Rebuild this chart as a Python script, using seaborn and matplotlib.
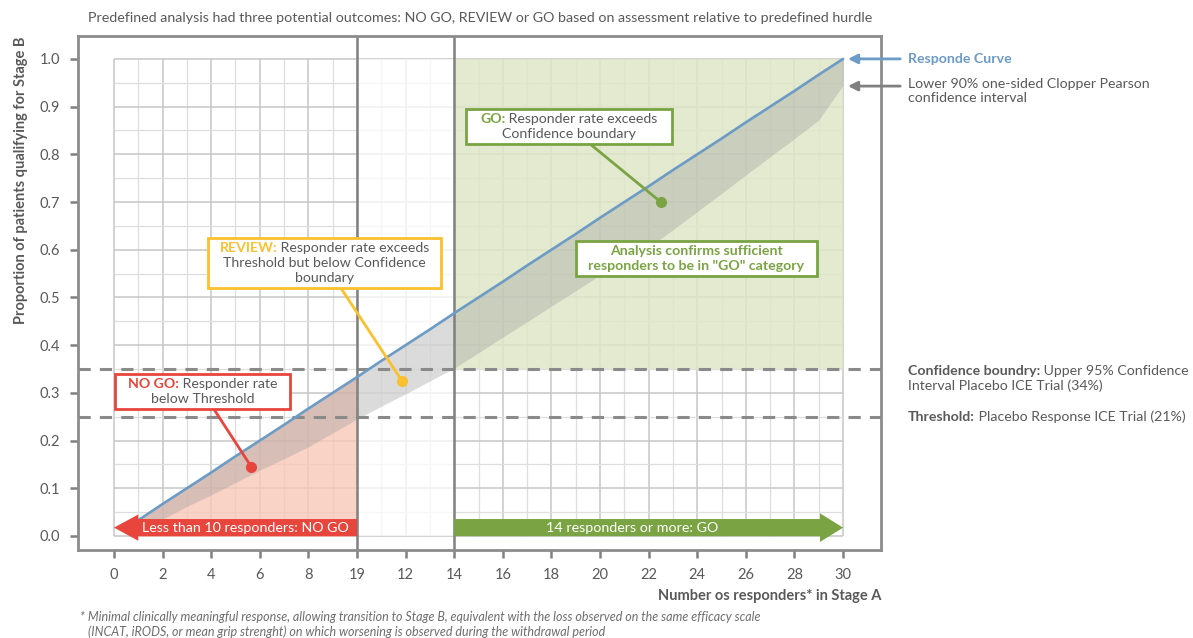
import matplotlib
matplotlib.use("Agg")
import matplotlib.pyplot as plt
import seaborn as sns
from matplotlib.offsetbox import TextArea, HPacker, VPacker, AnnotationBbox, DrawingArea

# Dane
responders = list(range(1, 31))
response_rate = [0.033, 0.067, 0.100, 0.133, 0.167, 0.200, 0.233, 0.267, 0.300, 0.333,
                 0.367, 0.400, 0.433, 0.467, 0.500, 0.533, 0.567, 0.600, 0.633, 0.667,
                 0.700, 0.733, 0.767, 0.800, 0.833, 0.867, 0.900, 0.933, 0.967, 1.000]
lower_ci = [0.012, 0.035, 0.062, 0.086, 0.112, 0.138, 0.162, 0.187, 0.216, 0.245,
            0.272, 0.298, 0.325, 0.352, 0.384, 0.417, 0.449, 0.482, 0.514, 0.547,
            0.575, 0.605, 0.642, 0.680, 0.718, 0.757, 0.795, 0.833, 0.872, 0.945]
x_ticks = list(range(0, 31, 2))
x_tick_labels = ['0', '2', '4', '6', '8', '19', '12', '14', '16', '18', '20', '22', '24', '26', '28', '30']
y_ticks = [0.0, 0.1, 0.2, 0.3, 0.4, 0.5, 0.6, 0.7, 0.8, 0.9, 1.0]
threshold = 0.25
confidence_boundary = 0.35
no_go_limit = 10
go_limit = 14
n_max = 30
no_go_point = (5.65, 0.145)
review_point = (11.85, 0.325)
go_point = (22.5, 0.70)

# Kolory
BLUE = '#6c9bc5'
RED = '#e8453c'
GREEN = '#7aa443'
YELLOW = '#fbc02d'
GRAY_TXT = '#595959'
GRAY_LINE = '#808080'

sns.set_theme(style='white')
plt.rcParams['font.family'] = ['Lato', 'DejaVu Sans']

fig = plt.figure(figsize=(11.93, 6.38), dpi=100)
ax = fig.add_axes([78 / 1193, 1 - 550 / 638, (881 - 78) / 1193, (550 - 36) / 638])
ax.set_xlim(-1.48, 31.56)
ax.set_ylim(-0.0294, 1.048)

# Siatka tylko w obszarze danych
for xv in range(0, n_max + 1):
    major = xv % 2 == 0
    ax.vlines(xv, 0, 1, color='#c6c6c6' if major else '#dedede', lw=1.1 if major else 0.9, zorder=0.2)
for i in range(0, 21):
    yv = i * 0.05
    major = i % 2 == 0
    ax.hlines(yv, 0, n_max, color='#c6c6c6' if major else '#dedede', lw=1.1 if major else 0.9, zorder=0.2)

# Obszary
ax.fill_between([no_go_limit, go_limit], 0, 1, color='white', alpha=0.75, lw=0, zorder=0.3)
ax.fill_between([go_limit, n_max], confidence_boundary, 1.0, color='#dfe7c8', alpha=0.85, lw=0, zorder=0.4)
ax.fill_between(responders[:no_go_limit], 0, response_rate[:no_go_limit], color='#f8c8b8', alpha=0.8, lw=0, zorder=0.4)
ax.fill_between(responders, lower_ci, response_rate, color='#9e9e9e', alpha=0.37, lw=0, zorder=0.6)

# Linie progowe
for yv in [confidence_boundary, threshold]:
    ax.axhline(yv, color='#8a8a8a', lw=2.2, ls=(0, (4, 3)), zorder=1)
for xv in [no_go_limit, go_limit]:
    ax.axvline(xv, color=GRAY_LINE, lw=1.8, zorder=1.1)

sns.lineplot(x=responders, y=response_rate, ax=ax, color=BLUE, lw=1.9, zorder=2)

# Strzałki NO GO / GO
ax.arrow(no_go_limit, 0.0175, -no_go_limit, 0, width=0.036, head_width=0.055, head_length=1.0,
         length_includes_head=True, color=RED, lw=0, zorder=3)
ax.arrow(go_limit, 0.0175, n_max - go_limit, 0, width=0.036, head_width=0.06, head_length=0.95,
         length_includes_head=True, color=GREEN, lw=0, zorder=3)
ax.text(5.4, 0.0175, 'Less than 10 responders: NO GO', color='white', ha='center', va='center',
        fontsize=10.3, zorder=4)
ax.text(21.3, 0.0175, '14 responders or more: GO', color='white', ha='center', va='center',
        fontsize=10.3, zorder=4)


def boxed_note(lines, box_xy, edge, point=None, hpad=9, sep=2):
    rows = []
    for parts in lines:
        areas = [TextArea(t, textprops=dict(color=c, fontsize=10.2, fontweight=w)) for t, c, w in parts]
        rows.append(HPacker(children=areas, align='baseline', pad=0, sep=0))
    pack = VPacker(children=rows, align='center', pad=0, sep=sep)
    pack = HPacker(children=[DrawingArea(hpad, 1), pack, DrawingArea(hpad, 1)], align='center', pad=0, sep=0)
    arrow = dict(arrowstyle='-', color=edge, lw=2, shrinkA=0, shrinkB=0) if point else None
    ab = AnnotationBbox(pack, point if point else box_xy, xybox=box_xy, xycoords='data',
                        boxcoords='data', pad=0.28, bboxprops=dict(edgecolor=edge, lw=2, facecolor='white'),
                        arrowprops=arrow, zorder=4)
    ax.add_artist(ab)
    if point:
        ax.plot(point[0], point[1], 'o', color=edge, ms=7, zorder=6)


boxed_note([[('REVIEW:', YELLOW, 'bold'), (' Responder rate exceeds', GRAY_TXT, 'normal')],
            [('Threshold but below Confidence', GRAY_TXT, 'normal')],
            [('boundary', GRAY_TXT, 'normal')]],
           (8.66, 0.572), YELLOW, review_point, hpad=5)
boxed_note([[('NO GO:', RED, 'bold'), (' Responder rate', GRAY_TXT, 'normal')],
            [('below Threshold', GRAY_TXT, 'normal')]],
           (3.64, 0.303), RED, no_go_point, hpad=6)
boxed_note([[('GO:', GREEN, 'bold'), (' Responder rate exceeds', GRAY_TXT, 'normal')],
            [('Confidence boundary', GRAY_TXT, 'normal')]],
           (18.72, 0.858), GREEN, go_point, hpad=7)
boxed_note([[('Analysis confirms sufficient', GREEN, 'bold')],
            [('responders to be in "GO" category', GREEN, 'bold')]],
           (23.97, 0.582), GREEN, hpad=6)

# Opisy po prawej stronie
ax.annotate('', xy=(30.2, 1.0), xytext=(32.35, 1.0), annotation_clip=False,
            arrowprops=dict(arrowstyle='-|>', color=BLUE, lw=2, mutation_scale=14, shrinkA=0, shrinkB=0))
ax.annotate('', xy=(30.2, 0.943), xytext=(32.35, 0.943), annotation_clip=False,
            arrowprops=dict(arrowstyle='-|>', color=GRAY_LINE, lw=2, mutation_scale=14, shrinkA=0, shrinkB=0))
ax.text(32.67, 1.0, 'Responde Curve', color=BLUE, fontweight='bold', fontsize=10.2, va='center', clip_on=False)
ax.text(32.67, 0.943 + 0.0175, 'Lower 90% one-sided Clopper Pearson\nconfidence interval', color=GRAY_TXT,
        fontsize=10.2, va='top', linespacing=1.2, clip_on=False)


def side_note(lines, xy):
    rows = []
    for parts in lines:
        areas = [TextArea(t, textprops=dict(color=GRAY_TXT, fontsize=10.2, fontweight=w)) for t, w in parts]
        rows.append(HPacker(children=areas, align='baseline', pad=0, sep=0))
    pack = VPacker(children=rows, align='left', pad=0, sep=1.5)
    ab = AnnotationBbox(pack, xy, xycoords='data', frameon=False, box_alignment=(0, 0.5),
                        annotation_clip=False)
    ax.add_artist(ab)


side_note([[('Confidence boundry:', 'bold'), (' Upper 95% Confidence', 'normal')],
           [('Interval Placebo ICE Trial (34%)', 'normal')]], (32.67, 0.330))
side_note([[('Threshold:', 'bold'), (' Placebo Response ICE Trial (21%)', 'normal')]], (32.67, 0.249))

# Osie
ax.set_xticks(x_ticks)
ax.set_xticklabels(x_tick_labels)
ax.set_yticks(y_ticks)
ax.set_yticklabels([f'{v:.1f}' for v in y_ticks])
ax.tick_params(axis='both', colors=GRAY_LINE, labelcolor=GRAY_TXT, labelsize=10.5, length=6, width=1.8,
               direction='out', bottom=True, left=True)
ax.tick_params(axis='x', pad=7)
ax.tick_params(axis='y', pad=7)
for s in ax.spines.values():
    s.set_color('#8c8c8c')
    s.set_linewidth(2)
ax.grid(False)
ax.set_xlabel('Number os responders* in Stage A', loc='right', fontweight='bold', color=GRAY_TXT,
              fontsize=10.5, labelpad=5)
ax.set_ylabel('Proportion of patients qualifying for Stage B', loc='top', fontweight='bold',
              color=GRAY_TXT, fontsize=10.5, labelpad=8)

fig.text(480 / 1193, 1 - 18 / 638, 'Predefined analysis had three potential outcomes: NO GO, REVIEW or GO '
         'based on assessment relative to predefined hurdle', ha='center', va='center', color=GRAY_TXT,
         fontsize=10.3)
fig.text(80 / 1193, 1 - 617 / 638, '* Minimal clinically meaningful response, allowing transition to Stage B, '
         'equivalent with the loss observed on the same efficacy scale', style='italic', color='#6d6d6d',
         fontsize=9, va='center')
fig.text(88 / 1193, 1 - 632 / 638, '(INCAT, iRODS, or mean grip strenght) on which worsening is observed '
         'during the withdrawal period', style='italic', color='#6d6d6d', fontsize=9, va='center')

fig.savefig('out.png', dpi=100)
plt.close(fig)
